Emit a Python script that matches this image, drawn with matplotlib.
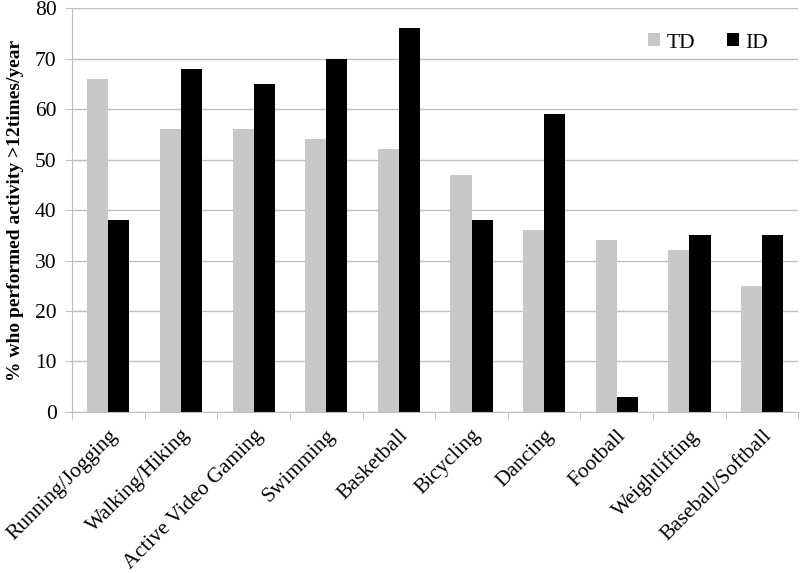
import matplotlib.pyplot as plt
import numpy as np

categories = ['Running/Jogging', 'Walking/Hiking', 'Active Video Gaming', 'Swimming',
              'Basketball', 'Bicycling', 'Dancing', 'Football', 'Weightlifting',
              'Baseball/Softball']
td = [66, 56, 56, 54, 52, 47, 36, 34, 32, 25]
id_ = [38, 68, 65, 70, 76, 38, 59, 3, 35, 35]

plt.rcParams['font.family'] = ['Liberation Serif', 'DejaVu Serif']

fig = plt.figure(figsize=(8, 5.73), dpi=100)
ax = fig.add_axes([0.09, 0.281, 0.908, 0.705])

x = np.arange(len(categories))
w = 0.29
ax.bar(x - w / 2, td, w, color='#c8c8c8', label='TD', zorder=2)
ax.bar(x + w / 2, id_, w, color='black', label='ID', zorder=2)

ax.set_xlim(-0.5, len(categories) - 0.5)
ax.set_ylim(0, 80)
ax.set_yticks(np.arange(0, 81, 10))
ax.yaxis.grid(True, color='#bfbfbf', linewidth=1, zorder=0)
ax.set_axisbelow(True)

ax.set_xticks(x)
ax.set_xticklabels(categories, rotation=45, ha='right', rotation_mode='anchor', fontsize=15.5)
ax.set_xticks(np.arange(-0.5, len(categories)), minor=True)
ax.tick_params(axis='x', which='major', length=0, pad=10)
ax.tick_params(axis='x', which='minor', length=6, color='#bfbfbf')
ax.tick_params(axis='y', length=5, color='#bfbfbf', labelsize=15.5, pad=6)

for s in ['top', 'right']:
    ax.spines[s].set_visible(False)
for s in ['left', 'bottom']:
    ax.spines[s].set_color('#bfbfbf')

ax.set_ylabel('% who performed activity >12times/year', fontsize=14, fontweight='bold',
              labelpad=8)

ax.legend(loc='upper right', bbox_to_anchor=(0.985, 0.985), frameon=False, fontsize=15.5,
          handlelength=0.55, handleheight=0.55, handletextpad=0.3, ncol=2, columnspacing=1.5)

fig.savefig('out.png', dpi=100)
